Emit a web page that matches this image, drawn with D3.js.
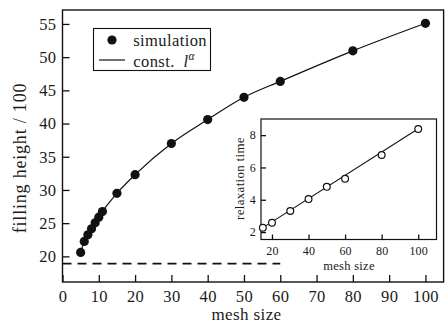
<!DOCTYPE html>
<html>
<head>
<meta charset="utf-8">
<script src="https://cdn.jsdelivr.net/npm/d3@7"></script>
<style>
  html, body { margin: 0; padding: 0; background: #fff; }
  svg { display: block; }
  text { font-family: "Liberation Serif", "Times New Roman", Tinos, "DejaVu Serif", serif; fill: #1a1a1a; }
</style>
</head>
<body>
<svg id="chart" width="448" height="324"></svg>
<script>
// Filling height vs. mesh size (simulation) with a power-law fit
const meshSize = [5, 6, 7, 8, 9, 10, 11, 15, 20, 30, 40, 50, 60, 80, 100];
const fillingHeight = [20.6, 22.25, 23.25, 24.15, 25.05, 25.9, 26.75, 29.5, 32.3, 37.0, 40.6, 43.95, 46.35, 50.95, 55.1];

// Reference level (dashed)
const refLevelX = [0, 60];
const refLevel = 18.9;

// Inset: relaxation time vs. mesh size
const insetMesh = [15, 20, 30, 40, 50, 60, 80, 100];
const relaxTime = [2.27, 2.58, 3.3, 4.04, 4.8, 5.3, 6.77, 8.38];
const insetFitX = [14, 100];
const insetFitY = [2.2, 8.4];

// Tick labels
const mainXTicks = [0, 10, 20, 30, 40, 50, 60, 70, 80, 90, 100];
const mainYTicks = [20, 25, 30, 35, 40, 45, 50, 55];
const insetXTicks = [20, 40, 60, 80, 100];
const insetYTicks = [2, 4, 6, 8];

const FONT = '"Liberation Serif", "Times New Roman", Tinos, "DejaVu Serif", serif';
const svg = d3.select("#chart");
const ink = "#111";

// ---------- main panel ----------
const x = d3.scaleLinear().domain([0, 105]).range([62.5, 443.6]);
const y = d3.scaleLinear().domain([16.14, 57.1]).range([282, 10]);

const xAxis = d3.axisBottom(x).tickValues(mainXTicks).tickSizeInner(-7).tickSizeOuter(0).tickPadding(8.3);
const yAxis = d3.axisLeft(y).tickValues(mainYTicks).tickSizeInner(-7).tickSizeOuter(0).tickPadding(6);

function styleAxis(g, fs, ls) {
  g.attr("font-family", null).attr("font-size", null);
  g.select(".domain").remove();
  g.selectAll(".tick line").attr("stroke", ink).attr("stroke-width", 1.3);
  g.selectAll(".tick text")
    .attr("fill", "#1a1a1a")
    .style("font-family", FONT)
    .style("font-size", fs + "px")
    .style("letter-spacing", ls + "px");
}

svg.append("g").attr("transform", "translate(0,282)").call(xAxis).call(g => styleAxis(g, 16.5, 0.4));
svg.append("g").attr("transform", "translate(62.5,0)").call(yAxis).call(g => styleAxis(g, 16.5, 0.4));

// frame
svg.append("rect")
  .attr("x", x(0)).attr("y", y(57.1))
  .attr("width", x(105) - x(0)).attr("height", y(16.14) - y(57.1))
  .attr("fill", "none").attr("stroke", ink).attr("stroke-width", 1.4);

// dashed reference level
svg.append("line")
  .attr("x1", x(refLevelX[0])).attr("x2", x(refLevelX[1]))
  .attr("y1", y(refLevel)).attr("y2", y(refLevel))
  .attr("stroke", ink).attr("stroke-width", 1.7)
  .attr("stroke-dasharray", "9,6");

// fit curve through the simulation data
const pts = meshSize.map((m, i) => [m, fillingHeight[i]]);
svg.append("path")
  .datum(pts)
  .attr("d", d3.line().x(d => x(d[0])).y(d => y(d[1])).curve(d3.curveMonotoneX))
  .attr("fill", "none").attr("stroke", ink).attr("stroke-width", 1.2);

svg.append("g").selectAll("circle")
  .data(pts).join("circle")
  .attr("cx", d => x(d[0])).attr("cy", d => y(d[1]))
  .attr("r", 4.6).attr("fill", ink);

// axis titles
svg.append("text")
  .attr("x", 246.5).attr("y", 320)
  .attr("text-anchor", "middle")
  .style("font-family", FONT)
  .style("font-size", "17px").style("letter-spacing", "0.4px")
  .text("mesh size");

svg.append("text")
  .attr("transform", "translate(26,158) rotate(-90)")
  .attr("text-anchor", "middle")
  .style("font-family", FONT)
  .style("font-size", "18px").style("letter-spacing", "0.8px")
  .text("filling height / 100");

// legend
const lg = svg.append("g");
lg.append("rect").attr("x", 93.5).attr("y", 28.5).attr("width", 117).attr("height", 42)
  .attr("fill", "#fff").attr("stroke", ink).attr("stroke-width", 1.1);
lg.append("circle").attr("cx", 112).attr("cy", 40).attr("r", 4.6).attr("fill", ink);
lg.append("line").attr("x1", 99).attr("x2", 125).attr("y1", 60).attr("y2", 60)
  .attr("stroke", ink).attr("stroke-width", 1.2);
lg.append("text").attr("x", 133.3).attr("y", 46)
  .style("font-family", FONT)
  .style("font-size", "16.5px").style("letter-spacing", "0.4px").text("simulation");
const t2 = lg.append("text").attr("x", 133.3).attr("y", 66.5)
  .style("font-family", FONT)
  .style("font-size", "16.5px").style("letter-spacing", "0.4px");
t2.append("tspan").text("const.");
t2.append("tspan").attr("x", 183.5).style("font-style", "italic").text("l");
t2.append("tspan").attr("dy", -7).style("font-style", "italic").style("font-size", "11.5px").text("\u03b1");

// ---------- inset ----------
const xi = d3.scaleLinear().domain([14, 110]).range([261, 436.5]);
const yi = d3.scaleLinear().domain([1.54, 9.0]).range([239.5, 119]);

svg.append("rect")
  .attr("x", xi(14)).attr("y", yi(9.0))
  .attr("width", xi(110) - xi(14)).attr("height", yi(1.54) - yi(9.0))
  .attr("fill", "#fff").attr("stroke", ink).attr("stroke-width", 1.2);

const xiAxis = d3.axisBottom(xi).tickValues(insetXTicks).tickSizeInner(-5).tickSizeOuter(0).tickPadding(6.5);
const yiAxis = d3.axisLeft(yi).tickValues(insetYTicks).tickSizeInner(-5).tickSizeOuter(0).tickPadding(5);
svg.append("g").attr("transform", "translate(0,239.5)").call(xiAxis).call(g => styleAxis(g, 12, 0.2));
svg.append("g").attr("transform", "translate(261,0)").call(yiAxis).call(g => styleAxis(g, 12, 0.2));

svg.append("line")
  .attr("x1", xi(insetFitX[0])).attr("y1", yi(insetFitY[0]))
  .attr("x2", xi(insetFitX[1])).attr("y2", yi(insetFitY[1]))
  .attr("stroke", ink).attr("stroke-width", 1.1);

svg.append("g").selectAll("circle")
  .data(insetMesh.map((m, i) => [m, relaxTime[i]])).join("circle")
  .attr("cx", d => xi(d[0])).attr("cy", d => yi(d[1]))
  .attr("r", 3.4).attr("fill", "#fff").attr("stroke", ink).attr("stroke-width", 1.2);

svg.append("text")
  .attr("x", 349).attr("y", 269.5)
  .attr("text-anchor", "middle")
  .style("font-family", FONT)
  .style("font-size", "12.5px").style("letter-spacing", "0.3px")
  .text("mesh size");

svg.append("text")
  .attr("transform", "translate(244,178.5) rotate(-90)")
  .attr("text-anchor", "middle")
  .style("font-family", FONT)
  .style("font-size", "13px").style("letter-spacing", "0.3px")
  .text("relaxation time");
</script>
</body>
</html>
